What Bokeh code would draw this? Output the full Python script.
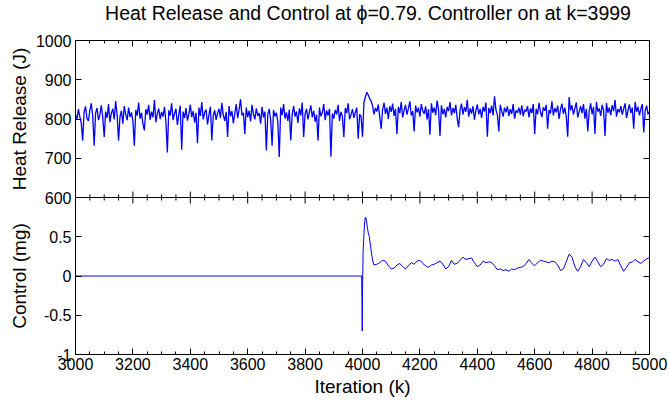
import math
from bokeh.plotting import figure
from bokeh.models import Range1d, LinearAxis, FixedTicker, Span, CustomJSTickFormatter
from bokeh.core.properties import value
from bokeh.layouts import row, column
from bokeh.embed import file_html
from bokeh.resources import INLINE

FONT = "Liberation Sans"

TITLE = "Heat Release and Control at \u03d5=0.79. Controller on at k=3999"
X_LABEL = "Iteration (k)"
HR_LABEL = "Heat Release (J)"
CTRL_LABEL = "Control (mg)"

x_ticks = [3000, 3200, 3400, 3600, 3800, 4000, 4200, 4400, 4600, 4800, 5000]
x_minor = [t for t in range(3000, 5001, 50) if t % 200]
hr_ticks = [600, 700, 800, 900, 1000]
ctrl_ticks = [-1, -0.5, 0, 0.5]
ctrl_tick_labels = ["-1", "-0.5", "0", "0.5"]

# Heat release, sampled every 5 iterations from k=3000 to k=5000
hr_k = list(range(3000, 5001, 5))
hr_v = [
    812, 798, 825, 806, 790, 745, 818, 832, 801, 795, 822, 840, 808, 732, 815, 828, 797, 811, 835, 804,
    754, 819, 803, 838, 792, 815, 826, 799, 846, 810, 745, 806, 821, 788, 833, 812, 797, 829, 805, 817,
    794, 732, 823, 809, 842, 801, 816, 787, 771, 825, 811, 836, 798, 819, 804, 848, 792, 813, 827, 800,
    818, 806, 831, 793, 715, 822, 809, 840, 797, 814, 826, 785, 811, 834, 722, 819, 803, 828, 796, 812,
    837, 805, 820, 791, 816, 738, 829, 808, 843, 799, 817, 824, 786, 812, 831, 745, 809, 822, 798, 815,
    826, 803, 841, 810, 795, 818, 754, 833, 807, 820, 789, 814, 838, 802, 824, 850, 809, 816, 762, 829,
    805, 821, 794, 836, 812, 799, 827, 808, 815, 788, 831, 804, 819, 720, 811, 826, 798, 732, 823, 807,
    816, 792, 703, 829, 810, 838, 801, 817, 795, 824, 745, 812, 833, 806, 819, 790, 827, 809, 842, 754,
    813, 826, 799, 818, 835, 804, 821, 793, 811, 745, 829, 807, 816, 838, 797, 822, 809, 826, 704, 814,
    801, 823, 812, 836, 795, 818, 807, 754, 828, 815, 840, 799, 811, 825, 803, 817, 829, 750, 812, 806,
    755, 842, 856, 868, 861, 852, 846, 834, 812, 828, 819, 837, 806, 775, 824, 841, 813, 829, 800, 833,
    818, 839, 808, 826, 762, 831, 815, 843, 804, 822, 836, 811, 827, 845, 809, 820, 768, 834, 817, 829,
    806, 838, 821, 813, 832, 799, 825, 760, 840, 816, 829, 810, 847, 823, 757, 835, 812, 826, 804, 831,
    820, 843, 809, 828, 815, 836, 801, 779, 824, 839, 811, 830, 818, 849, 806, 827, 814, 833, 798, 822,
    837, 812, 826, 803, 831, 819, 842, 755, 828, 815, 834, 809, 858, 823, 811, 768, 836, 820, 806, 829,
    817, 832, 808, 825, 813, 838, 801, 822, 816, 829, 811, 835, 807, 824, 819, 833, 804, 827, 815, 838,
    762, 826, 812, 841, 818, 805, 830, 821, 836, 775, 823, 814, 845, 809, 828, 817, 834, 800, 825, 839,
    813, 829, 806, 755, 856, 822, 835, 811, 827, 842, 804, 819, 833, 815, 838, 801, 826, 768, 821, 840,
    812, 831, 762, 844, 819, 827, 808, 836, 823, 757, 841, 816, 829, 810, 835, 820, 848, 806, 825, 817,
    833, 811, 826, 840, 803, 822, 837, 815, 829, 775, 844, 818, 831, 809, 826, 838, 766, 821, 834, 812,
    820,
]

# Control signal
ctrl_k = [3000, 3997, 3998, 3999, 4000, 4002, 4004, 4006, 4008, 4010, 4012, 4014,
          4017, 4020, 4024, 4028, 4032, 4036] + list(range(4040, 5001, 10))
ctrl_v = [0, 0, -0.30, -0.70, -0.20, 0.30, 0.45, 0.60, 0.70, 0.75, 0.74, 0.70,
          0.62, 0.55, 0.50, 0.38, 0.27, 0.19,
          0.14, 0.15, 0.17, 0.20, 0.19, 0.13, 0.09, 0.10, 0.14, 0.16,
          0.12, 0.09, 0.13, 0.17, 0.15, 0.19, 0.20, 0.16, 0.13, 0.11,
          0.14, 0.15, 0.17, 0.19, 0.15, 0.09, 0.12, 0.20, 0.15, 0.16,
          0.20, 0.24, 0.21, 0.22, 0.23, 0.17, 0.12, 0.14, 0.19, 0.17,
          0.18, 0.17, 0.13, 0.08, 0.09, 0.07, 0.08, 0.06, 0.09, 0.08,
          0.10, 0.11, 0.12, 0.16, 0.21, 0.16, 0.13, 0.17, 0.20, 0.19,
          0.18, 0.17, 0.19, 0.18, 0.14, 0.07, 0.09, 0.18, 0.28, 0.24,
          0.12, 0.06, 0.12, 0.21, 0.17, 0.12, 0.19, 0.24, 0.18, 0.12,
          0.15, 0.22, 0.20, 0.21, 0.19, 0.21, 0.13, 0.06, 0.11, 0.17,
          0.18, 0.21, 0.18, 0.16, 0.19, 0.22, 0.23]

LINE_COLOR = "#0000ff"

# The two panels share one frame: heat release fills the upper half of the
# primary range, control fills the lower half of the "ctrl" range.
HR_RANGE = (200, 1000)
CTRL_RANGE = (-1, 3)
BOUNDARY = (HR_RANGE[0] + HR_RANGE[1]) / 2          # 600


def ctrl_to_hr(c):
    return HR_RANGE[0] + (c - CTRL_RANGE[0]) * (HR_RANGE[1] - HR_RANGE[0]) / (CTRL_RANGE[1] - CTRL_RANGE[0])


y_ticks = [ctrl_to_hr(c) for c in ctrl_ticks] + hr_ticks
y_labels = {ctrl_to_hr(c): s for c, s in zip(ctrl_ticks, ctrl_tick_labels)}

blank = CustomJSTickFormatter(code="return ''")

TOTAL_W, TOTAL_H = 669, 404
LABEL_W = 32
TITLE_H = 25
BORDER_LEFT, BORDER_RIGHT = 74, 20
BORDER_TOP, BORDER_BOTTOM = 40 - TITLE_H, 50


def style_axis(ax, ticks, minor, show_labels):
    ax.ticker = FixedTicker(ticks=ticks, minor_ticks=minor)
    ax.major_tick_in = 6
    ax.major_tick_out = 0
    ax.minor_tick_in = 3
    ax.minor_tick_out = 0
    ax.axis_line_color = "black"
    ax.major_tick_line_color = "black"
    ax.minor_tick_line_color = "black"
    if show_labels:
        ax.major_label_text_font = FONT
        ax.major_label_text_font_size = "16px"
        ax.major_label_text_color = "black"
        ax.major_label_standoff = 3
    else:
        ax.formatter = blank
        ax.major_label_text_font_size = "1px"
        ax.major_label_standoff = 0


def bare(fig):
    fig.grid.visible = False
    fig.outline_line_color = None
    fig.background_fill_color = "white"
    fig.border_fill_color = "white"


x_range = Range1d(3000, 5000)
y_range = Range1d(*HR_RANGE)

p = figure(width=TOTAL_W - LABEL_W, height=TOTAL_H - TITLE_H,
           x_range=x_range, y_range=y_range,
           output_backend="svg", toolbar_location=None,
           min_border_left=BORDER_LEFT - LABEL_W, min_border_right=BORDER_RIGHT,
           min_border_top=BORDER_TOP, min_border_bottom=BORDER_BOTTOM)
p.extra_y_ranges = {"ctrl": Range1d(*CTRL_RANGE)}
p.add_layout(LinearAxis(), "above")
p.add_layout(LinearAxis(), "right")

style_axis(p.below[0], x_ticks, x_minor, True)
p.below[0].axis_label = X_LABEL
p.below[0].axis_label_text_font = FONT
p.below[0].axis_label_text_font_size = "19px"
p.below[0].axis_label_text_font_style = "normal"
p.below[0].axis_label_text_color = "black"
p.below[0].axis_label_standoff = 3
style_axis(p.above[0], x_ticks, x_minor, False)
style_axis(p.left[0], y_ticks, [], True)
p.left[0].major_label_overrides = y_labels
p.left[0].major_label_standoff = 4
style_axis(p.right[0], y_ticks, [], False)

p.grid.visible = False
p.outline_line_color = "black"
p.background_fill_color = "white"
p.border_fill_color = "white"

# boundary between the two panels, with ticks pointing into both panels
p.add_layout(Span(location=BOUNDARY, dimension="width", line_color="black", line_width=1))
p.scatter(x_ticks, [BOUNDARY] * len(x_ticks), marker="dash", size=12, angle=math.pi / 2,
          line_color="black", line_width=1)
p.scatter(x_minor, [BOUNDARY] * len(x_minor), marker="dash", size=6, angle=math.pi / 2,
          line_color="black", line_width=1)

p.line(hr_k, hr_v, line_color=LINE_COLOR, line_width=1.3)
p.line(ctrl_k, ctrl_v, line_color=LINE_COLOR, line_width=1, y_range_name="ctrl")

# narrow strip on the left that carries the two vertical axis titles,
# aligned with the main frame through the shared y range
lab = figure(width=LABEL_W, height=TOTAL_H - TITLE_H, x_range=Range1d(0, 1), y_range=y_range,
             output_backend="svg", toolbar_location=None,
             x_axis_location=None, y_axis_location=None,
             min_border_left=0, min_border_right=0,
             min_border_top=BORDER_TOP, min_border_bottom=BORDER_BOTTOM)
bare(lab)
lab.text(x=[1, 1], y=[(hr_ticks[0] + hr_ticks[-1]) / 2, ctrl_to_hr(0)],
         text=[HR_LABEL, CTRL_LABEL], angle=math.pi / 2, x_offset=-3,
         text_align="center", text_baseline="bottom",
         text_font=value(FONT), text_font_size=value("19px"), text_color="black")

# title strip on top, sharing the x range so the title is centred over the frame
top = figure(width=TOTAL_W, height=TITLE_H, x_range=x_range, y_range=Range1d(0, 1),
             output_backend="svg", toolbar_location=None,
             x_axis_location=None, y_axis_location=None,
             min_border_left=BORDER_LEFT, min_border_right=BORDER_RIGHT,
             min_border_top=0, min_border_bottom=0)
bare(top)
top.text(x=[(x_ticks[0] + x_ticks[-1]) / 2], y=[0.5], text=[TITLE], x_offset=6,
         text_align="center", text_baseline="middle",
         text_font=value(FONT), text_font_size=value("19.5px"), text_color="black")

layout = column(top, row(lab, p, spacing=0), spacing=0)

with open("out.html", "w") as f:
    f.write(file_html(layout, INLINE))
